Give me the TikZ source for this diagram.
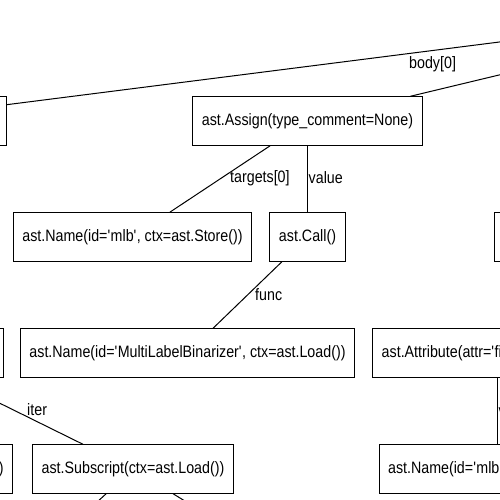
\documentclass[tikz,border=0pt]{standalone}
\usepackage{fontspec}
\setmainfont{Liberation Sans}[FakeStretch=0.864]
\newcommand\myq{\textquotesingle}
\begin{document}
\begin{tikzpicture}[x=1pt,y=-1pt,
  box/.style={draw, line width=1pt, minimum height=48.5pt, inner xsep=9pt, inner ysep=0pt,
    font=\fontsize{16.5}{19}\selectfont},
  lbl/.style={font=\fontsize{16.5}{19}\selectfont, inner sep=0pt, anchor=west},
  edge/.style={line width=1pt}]
\useasboundingbox (0,0) rectangle (500,500);
\clip (0,0) rectangle (500,500);
% row 0 (off page)
\node[box, minimum width=200pt] (parent) at (791,5) {};
% row 1
\node[box, minimum width=258pt] (ltop) at (-123,121) {};
\node[box] (assign) at (307.5,121) {ast.Assign(type\_comment=None)};
% row 2
\node[box] (namestore) at (132.5,237) {ast.Name(id=\myq mlb\myq, ctx=ast.Store())};
\node[box] (call) at (307.5,237) {ast.Call()};
\node[box, minimum width=120pt, anchor=west] (rright) at (494,237) {};
% row 3
\node[box, minimum width=210pt] (mleft) at (-102,353) {};
\node[box] (mlb) at (187.5,353) {ast.Name(id=\myq MultiLabelBinarizer\myq, ctx=ast.Load())};
\node[box] (attr) at (497,353) {ast.Attribute(attr=\myq fit\myq, ctx=ast.Load())};
% row 4
\node[box, text width=182pt, align=right, anchor=east] (bleft) at (13,469) {)};
\node[box] (subscript) at (133,469) {ast.Subscript(ctx=ast.Load())};
\node[box] (nameload) at (497,469) {ast.Name(id=\myq mlb\myq, ctx=ast.Load())};
% row 5 (off page)
\node[box, minimum width=100pt] (sub1) at (7,585) {};
\node[box, minimum width=100pt] (sub2) at (321,585) {};
% edges
\draw[edge] (parent) -- (ltop);
\draw[edge] (parent) -- (assign);
\draw[edge] (assign) -- (namestore);
\draw[edge] (assign) -- (call);
\draw[edge] (call) -- (mlb);
\draw[edge] (mleft) -- (subscript);
\draw[edge] (attr) -- (nameload);
\draw[edge] (subscript) -- (sub1);
\draw[edge] (subscript) -- (sub2);
% edge labels
\node[lbl] (lbody) at (409,64) {body[0]};
\node[lbl] (ltargets) at (230,178) {targets[0]};
\node[lbl] (lvalue) at (308.5,178) {value};
\node[lbl] (lfunc) at (255,295) {func};
\node[lbl] (liter) at (27,410) {iter};
\node[lbl] (lvalue2) at (498.5,411) {value};
\end{tikzpicture}
\end{document}
